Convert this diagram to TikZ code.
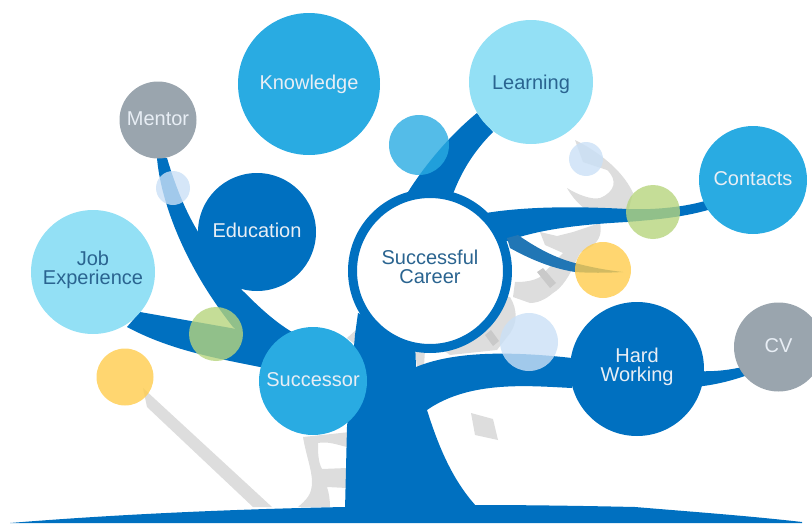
\documentclass[tikz,border=0pt]{standalone}
\usepackage{fontspec}
\setmainfont{Liberation Sans}
\definecolor{treeblue}{HTML}{0070C0}
\definecolor{skyb}{HTML}{29ABE2}
\definecolor{paleb}{HTML}{93E0F5}
\definecolor{greyb}{HTML}{9AA5AE}
\definecolor{lighttxt}{HTML}{E8EEF5}
\definecolor{darktxt}{HTML}{2A6490}
\definecolor{wm}{HTML}{DDDDDD}
\definecolor{wmd}{HTML}{C9C9C9}
\definecolor{dotgreen}{HTML}{B6D47D}
\definecolor{dotyellow}{HTML}{FFCC4C}
\definecolor{dotlight}{HTML}{CAE0F6}
\definecolor{twig}{HTML}{2176B5}
\tikzset{
  bubble/.style={circle,inner sep=0pt,minimum size=#1*2pt,font=\fontsize{20}{19}\selectfont,align=center},
  oneline/.style={text height=14.5pt,text depth=4pt},
  twolines/.style={text depth=8pt},
  lighttext/.style={text=lighttxt},
  darktext/.style={text=darktxt},
  dot/.style={circle,inner sep=0pt,minimum size=#1*2pt,fill opacity=.8},
  trunk/.style={fill=treeblue,draw=none}
}
\begin{document}
\begin{tikzpicture}[x=1pt,y=-1pt]
\useasboundingbox (0,0) rectangle (812,525);
% faint grey marks behind the tree
\fill[wm] (143,388) -- (147,407) -- (253,507) -- (272,507) -- cycle;
\fill[wm] (471,413) -- (493,419) -- (498,440) -- (475,435) -- cycle;
\fill[wm,even odd rule] (303,437) .. controls (306,455) and (312,470) .. (312,482)
  .. controls (312,495) and (306,500) .. (298,507) -- (350,507) -- (350,432) -- cycle
  (318,443) .. controls (328,441) and (338,445) .. (347,447) -- (347,468)
  -- (322,469) .. controls (318,462) and (318,452) .. (318,443) -- cycle
  (327,487) -- (347,488) -- (347,507) -- (330,507) .. controls (330,500) and (329,493) .. (327,487) -- cycle;
\fill[wm] (347,338) -- (356,330) -- (356,345) -- cycle;
% upper hook
\fill[wm] (575,140) .. controls (605,155) and (625,175) .. (633,193) -- (628,212)
  -- (587,210) .. controls (580,206) and (572,197) .. (567,188)
  .. controls (578,195) and (592,200) .. (600,198)
  .. controls (615,192) and (618,180) .. (607,170) -- (583,162) -- cycle;
% middle S band
\fill[wm] (540,232) -- (557,236) -- (573,232) -- (600,223)
  .. controls (602,232) and (600,240) .. (592,246) -- (580,253) -- (575,263)
  .. controls (570,275) and (562,288) .. (553,293)
  .. controls (545,300) and (537,303) .. (530,303) -- (513,297) -- (515,282)
  .. controls (525,282) and (533,281) .. (540,277) -- (563,253) -- (545,245) -- cycle;
% lower band
\fill[wm] (495,295) -- (510,297) .. controls (518,310) and (518,325) .. (507,337)
  -- (497,350) -- (450,355) -- (430,340) -- cycle;
\fill[wm] (415,350) -- (425,350) -- (424,366) -- (417,368) -- cycle;
\fill[wmd] (537,272) -- (543,268) -- (556,283) -- (550,288) -- cycle;
\fill[wmd] (485,335) -- (491,330) -- (499,341) -- (493,346) -- cycle;
% tree: ground and trunk
\fill[trunk] (10,523) .. controls (120,514) and (240,509) .. (345,507)
  -- (477,505) .. controls (530,505) and (590,506) .. (635,507)
  .. controls (695,512) and (750,516) .. (802,522) -- (802,523) -- cycle;
\fill[trunk] (345,510) -- (347,427) -- (355,335) -- (358,313)
  -- (415,340) -- (416,367) .. controls (450,353) and (500,350) .. (572,358)
  -- (572,388) .. controls (530,386) and (470,380) .. (427,410)
  .. controls (438,445) and (452,480) .. (477,507) -- cycle;
% branch to Learning
\fill[trunk] (408,192) .. controls (425,165) and (450,135) .. (477,113)
  -- (493,132) .. controls (475,150) and (462,170) .. (453,194) -- cycle;
% branch to Contacts
\fill[trunk] (480,214) .. controls (530,205) and (590,207) .. (627,209)
  .. controls (650,210) and (680,208) .. (705,201) -- (708,210)
  .. controls (680,218) and (650,220) .. (627,222)
  .. controls (590,224) and (540,228) .. (505,242) -- cycle;
\fill[twig] (507,238) -- (518,235) .. controls (535,247) and (555,258) .. (575,263)
  .. controls (590,267) and (605,270) .. (623,272)
  .. controls (605,273) and (590,273) .. (575,272)
  .. controls (550,268) and (528,258) .. (510,248) -- cycle;
% left branches
\fill[trunk] (157,158) .. controls (160,195) and (180,260) .. (233,327)
  -- (290,372) -- (300,340) -- (292,332) .. controls (272,320) and (255,303) .. (242,290)
  -- (205,245) -- (197,230) .. controls (185,210) and (175,185) .. (167,158) -- cycle;
\fill[trunk] (140,312) -- (242,330) -- (300,345) -- (270,369) -- (260,367)
  .. controls (215,358) and (170,350) .. (127,327) -- cycle;
% branch to CV
\fill[trunk] (695,371) .. controls (715,372) and (730,370) .. (747,366)
  -- (745,376) .. controls (730,381) and (715,385) .. (695,387) -- cycle;
% main bubbles
\node[bubble=71,oneline,fill=skyb,lighttext] (knowledge) at (309,84) {Knowledge};
\node[bubble=62,oneline,text depth=0pt,fill=paleb,darktext] (learning) at (531,82) {Learning};
\node[bubble=38.5,oneline,fill=greyb,lighttext] (mentor) at (158,120) {Mentor};
\node[bubble=59,oneline,fill=treeblue,lighttext] (education) at (257,232) {Education};
\node[bubble=62,twolines,fill=paleb,darktext] (job) at (93,272) {Job\\Experience};
\node[bubble=54,oneline,fill=skyb,lighttext] (successor) at (313,381) {Successor};
\node[bubble=54,oneline,fill=skyb,lighttext] (contacts) at (753,180) {Contacts};
\node[bubble=67,twolines,fill=treeblue,lighttext] (hard) at (637,369) {Hard\\Working};
\node[bubble=44.5,oneline,fill=greyb,lighttext] (cv) at (778.5,347) {CV};
\node[bubble=77.5,twolines,fill=white,draw=treeblue,line width=9pt,darktext] (centre) at (430,271) {Successful\\Career};
% translucent dots
\node[dot=30,fill=skyb] (d1) at (419,145) {};
\node[dot=17,fill=dotlight] (d2) at (586,159) {};
\node[dot=27,fill=dotgreen] (d3) at (653,212) {};
\node[dot=28,fill=dotyellow] (d4) at (603,270) {};
\node[dot=29,fill=dotlight] (d5) at (529,342) {};
\node[dot=17,fill=dotlight] (d6) at (173,188) {};
\node[dot=27,fill=dotgreen] (d7) at (216,334) {};
\node[dot=28.5,fill=dotyellow] (d8) at (125,377) {};
\end{tikzpicture}
\end{document}
